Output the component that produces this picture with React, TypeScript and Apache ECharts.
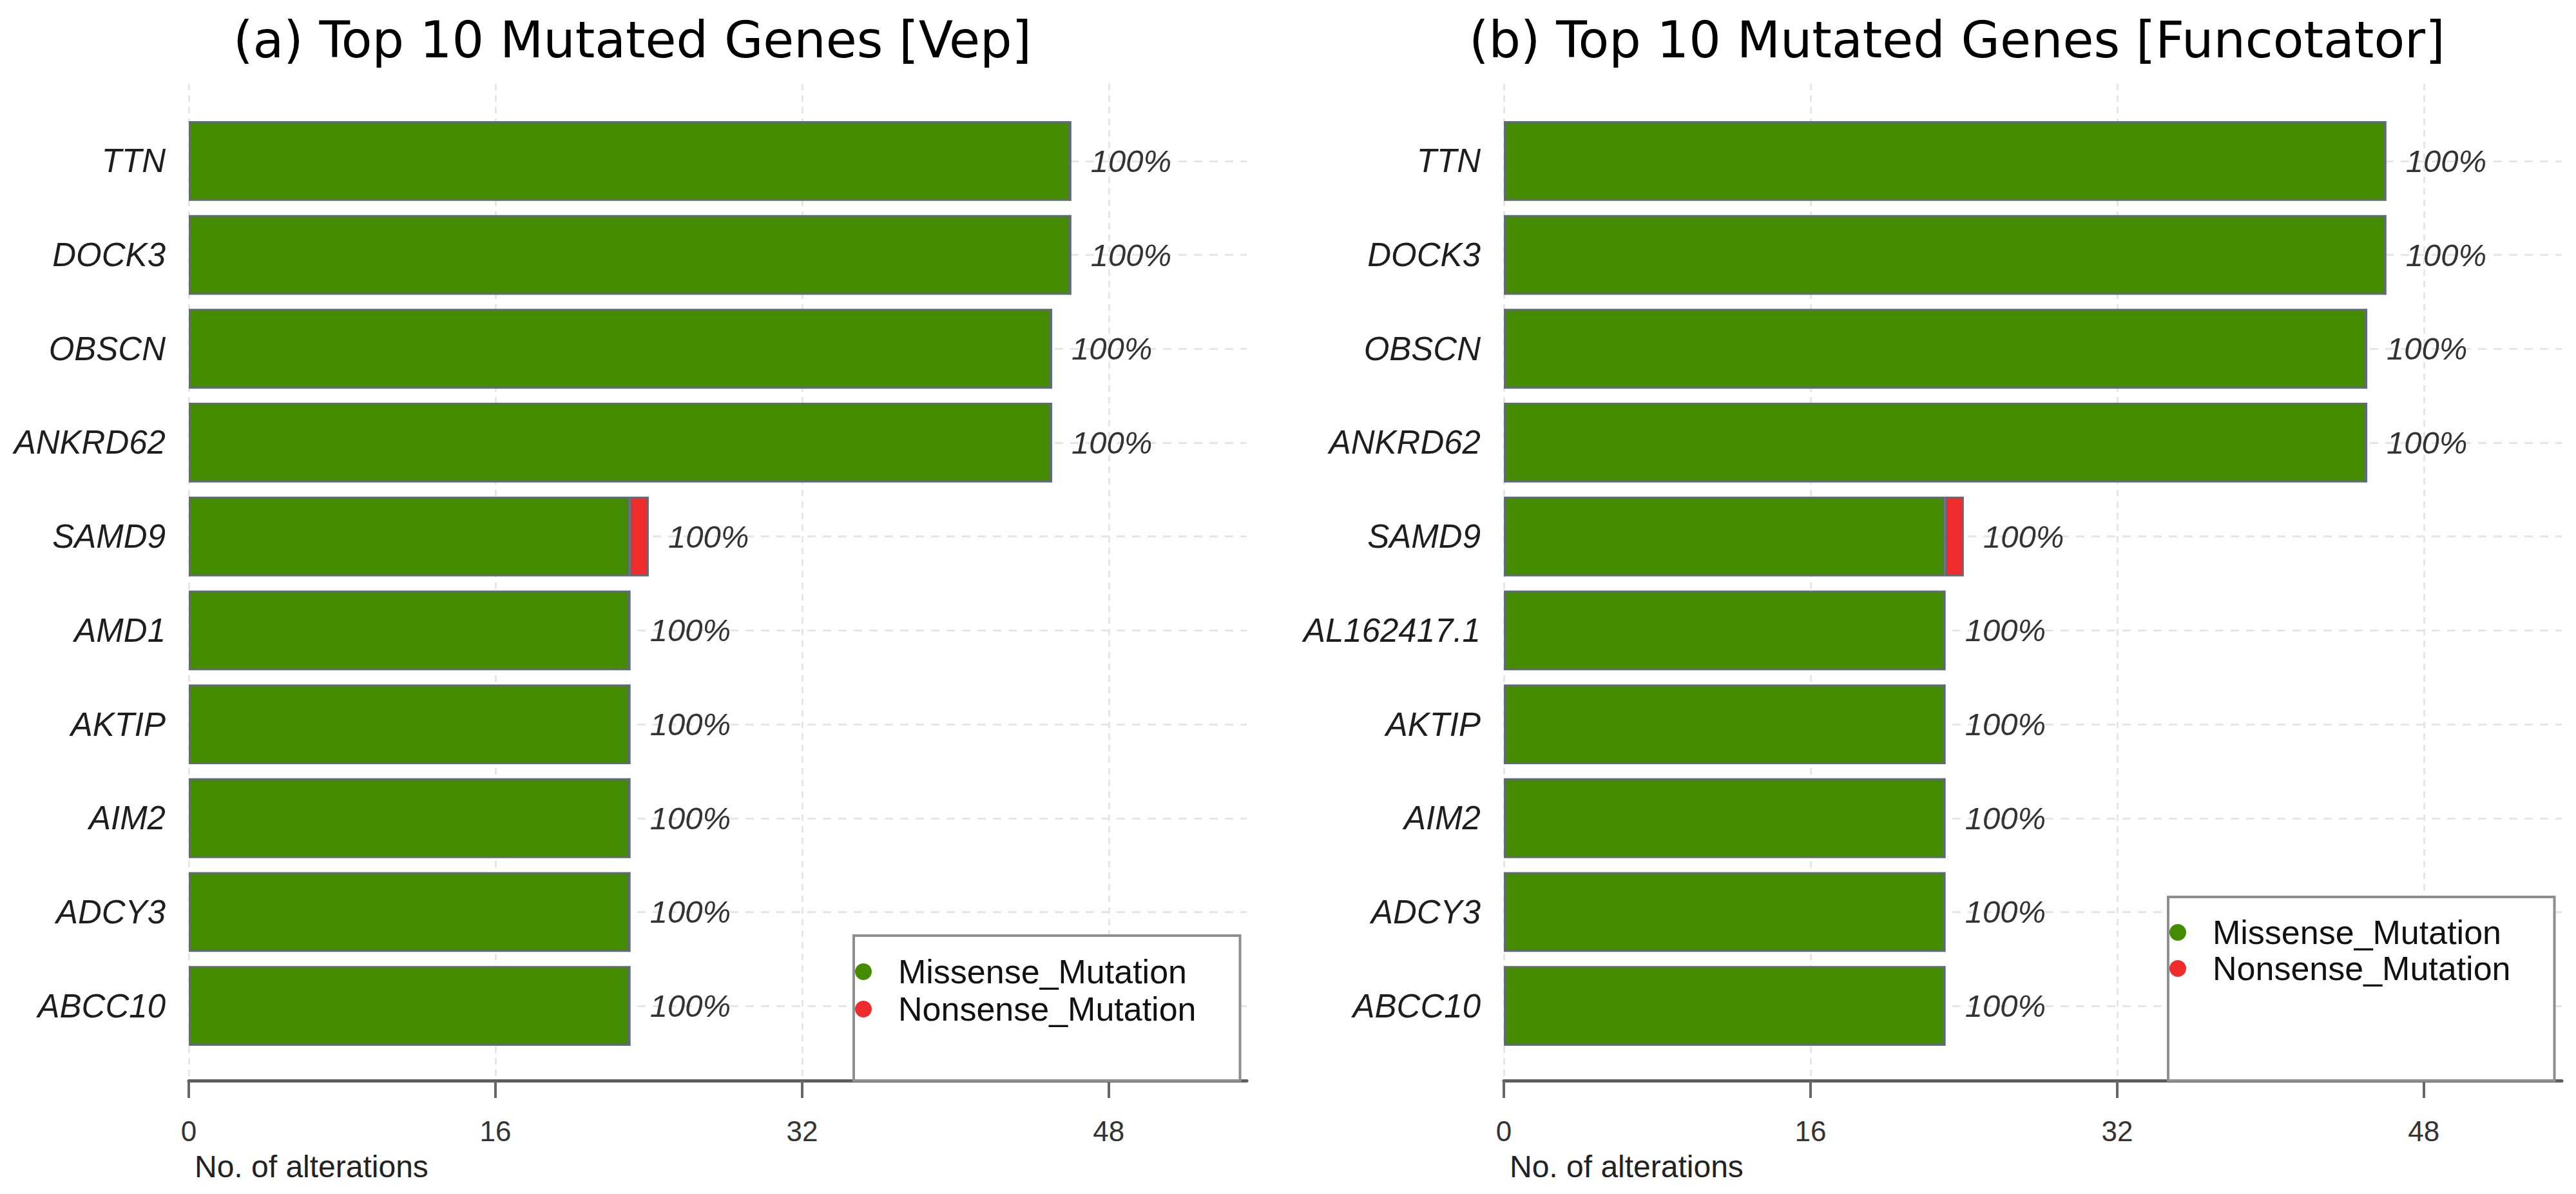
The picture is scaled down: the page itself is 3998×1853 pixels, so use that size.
import React, { useEffect, useRef } from 'react';
import * as echarts from 'echarts';

const genesVep = ['TTN', 'DOCK3', 'OBSCN', 'ANKRD62', 'SAMD9', 'AMD1', 'AKTIP', 'AIM2', 'ADCY3', 'ABCC10'];
const missenseVep = [46, 46, 45, 45, 23, 23, 23, 23, 23, 23];
const nonsenseVep = [0, 0, 0, 0, 1, 0, 0, 0, 0, 0];
const pctVep = ['100%', '100%', '100%', '100%', '100%', '100%', '100%', '100%', '100%', '100%'];

const genesFunc = ['TTN', 'DOCK3', 'OBSCN', 'ANKRD62', 'SAMD9', 'AL162417.1', 'AKTIP', 'AIM2', 'ADCY3', 'ABCC10'];
const missenseFunc = [46, 46, 45, 45, 23, 23, 23, 23, 23, 23];
const nonsenseFunc = [0, 0, 0, 0, 1, 0, 0, 0, 0, 0];
const pctFunc = ['100%', '100%', '100%', '100%', '100%', '100%', '100%', '100%', '100%', '100%'];

const xTicks = [0, 16, 32, 48];
const xMax = 55.2;
const seriesNames = ['Missense_Mutation', 'Nonsense_Mutation'];
const titles = ['(a) Top 10 Mutated Genes [Vep]', '(b) Top 10 Mutated Genes [Funcotator]'];
const xAxisTitle = 'No. of alterations';

const GREEN = '#458B00';
const RED = '#EE2C2C';
const SANS = "'Liberation Sans', Arial, Helvetica, sans-serif";
const TITLE_FONT = "'DejaVu Sans', sans-serif";

export default function App() {
  const ref = useRef<HTMLDivElement>(null);
  useEffect(() => {
    if (!ref.current) return;
    const chart = echarts.init(ref.current, null, { renderer: 'svg', width: 3998, height: 1853 });

    const panels = [
      { x0: 293, genes: genesVep, mis: missenseVep, non: nonsenseVep, pct: pctVep },
      { x0: 2334, genes: genesFunc, mis: missenseFunc, non: nonsenseFunc, pct: pctFunc },
    ];
    const plotW = 1642;

    const grid: any[] = [];
    const xAxis: any[] = [];
    const yAxis: any[] = [];
    const series: any[] = [];

    panels.forEach((p, i) => {
      grid.push({ left: p.x0, top: 130, width: plotW, height: 1547, containLabel: false });
      grid.push({ left: p.x0, top: 177, width: plotW, height: 1457, containLabel: false });
      const gA = i * 2;
      const gB = i * 2 + 1;
      xAxis.push({
        type: 'value', gridIndex: gA, min: 0, max: xMax, interval: 16,
        axisLine: { show: true, lineStyle: { color: '#5e5e5e', width: 5 } },
        axisTick: { show: true, length: 27, customValues: xTicks, lineStyle: { color: '#666', width: 4 } },
        axisLabel: { show: true, customValues: xTicks, margin: 56, fontSize: 44, color: '#333', fontFamily: SANS },
        splitLine: { show: true, lineStyle: { color: '#e6e6e6', width: 3, type: [10, 8] } },
      });
      xAxis.push({ type: 'value', gridIndex: gB, min: 0, max: xMax, show: false, splitLine: { show: false } });
      yAxis.push({ type: 'value', gridIndex: gA, min: 0, max: 1, show: false, splitLine: { show: false } });
      yAxis.push({
        type: 'category', gridIndex: gB, data: p.genes, inverse: true,
        axisLine: { show: false }, axisTick: { show: false },
        axisLabel: { margin: 36, fontSize: 51, fontStyle: 'italic', color: '#1e1e1e', fontFamily: SANS },
        splitLine: { show: true, alignWithLabel: true, interval: 0, lineStyle: { color: '#e6e6e6', width: 3, type: [13, 11] } },
      });
      const common = {
        type: 'bar', xAxisIndex: gB, yAxisIndex: gB, stack: 'panel' + i, barCategoryGap: '15%',
        clip: false,
      };
      series.push({
        ...common, name: seriesNames[0], data: p.mis,
        itemStyle: { color: GREEN, borderColor: '#5f6b77', borderWidth: 3 },
      });
      series.push({
        ...common, name: seriesNames[1], data: p.non,
        itemStyle: { color: RED, borderColor: '#5f6b77', borderWidth: 3 },
        label: {
          show: true, position: 'right', distance: 30,
          formatter: (q: any) => p.pct[q.dataIndex],
          fontSize: 49, fontStyle: 'italic', color: '#333', fontFamily: SANS,
        },
      });
    });

    const legendCommon = {
      orient: 'vertical', icon: 'circle', itemWidth: 98, itemHeight: 26,
      data: seriesNames, backgroundColor: '#fff', borderColor: '#8f8f8f', borderWidth: 4,
      borderRadius: 0, itemStyle: { borderWidth: 0 }, selectedMode: false,
      textStyle: { fontSize: 52, lineHeight: 52, color: '#111', fontFamily: SANS },
    };

    const option: any = {
      animation: false,
      backgroundColor: '#fff',
      title: [
        { text: titles[0], left: 357, top: 18, textStyle: { fontSize: 78, fontWeight: 'normal', color: '#000', fontFamily: TITLE_FONT } },
        { text: titles[1], left: 2275, top: 18, textStyle: { fontSize: 78, fontWeight: 'normal', color: '#000', fontFamily: TITLE_FONT } },
        { text: xAxisTitle, left: 297, top: 1781, textStyle: { fontSize: 48, fontWeight: 'normal', color: '#222', fontFamily: SANS } },
        { text: xAxisTitle, left: 2338, top: 1781, textStyle: { fontSize: 48, fontWeight: 'normal', color: '#222', fontFamily: SANS } },
      ],
      legend: [
        { ...legendCommon, left: 1325, top: 1452, itemGap: 6, padding: [30, 68, 85, 2] },
        { ...legendCommon, left: 3365, top: 1392, itemGap: 4, padding: [29, 68, 148, 2] },
      ],
      grid, xAxis, yAxis, series,
    };
    chart.setOption(option);
    return () => chart.dispose();
  }, []);
  return (
    <div
      ref={ref}
      style={{ position: 'absolute', left: 0, top: 0, width: 3998, height: 1853, background: '#fff' }}
    />
  );
}
